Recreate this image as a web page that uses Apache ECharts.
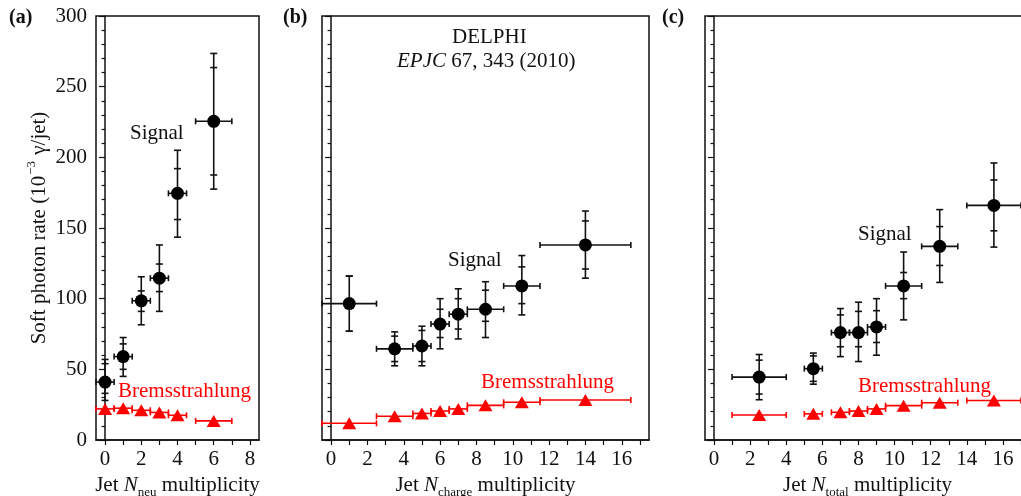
<!DOCTYPE html>
<html>
<head>
<meta charset="utf-8">
<script src="https://cdn.jsdelivr.net/npm/echarts@6/dist/echarts.min.js"></script>
<style>
html, body { margin: 0; padding: 0; background: #fff; }
#chart { width: 1021px; height: 496px; }
</style>
</head>
<body>
<div id="chart"></div>
<script>
// (a) Jet N_neu
const neuX = [0, 1, 2, 3, 4, 6]
const neuLo = [-0.5, 0.5, 1.5, 2.5, 3.5, 5]
const neuHi = [0.5, 1.5, 2.5, 3.5, 4.5, 7]
const neuSignal = [41, 59, 98.5, 114.5, 174.5, 225.5]
const neuStatLo = [33, 50, 91, 105, 156, 187.5]
const neuStatHi = [54, 68, 105.5, 124.5, 192, 263.5]
const neuTotLo = [28, 45, 81.5, 91, 143.5, 177.5]
const neuTotHi = [57, 72.5, 115.5, 138, 205, 273.5]
const neuBrems = [22, 22.5, 21, 19.5, 17.5, 13.5]

// (b) Jet N_charge
const chargeX = [1, 3.5, 5, 6, 7, 8.5, 10.5, 14]
const chargeLo = [-0.5, 2.5, 4.5, 5.5, 6.5, 7.5, 9.5, 11.5]
const chargeHi = [2.5, 4.5, 5.5, 6.5, 7.5, 9.5, 11.5, 16.5]
const chargeSignal = [96.5, 64.5, 66.5, 82, 89, 92.5, 109, 138]
const chargeStatLo = [77, 55.5, 55.5, 72.5, 78.5, 84, 96.5, 121]
const chargeStatHi = [116, 73.5, 77.5, 92.5, 100, 106, 122.5, 155]
const chargeTotLo = [77, 52.5, 52.5, 64.5, 71.5, 72.5, 88.5, 114.5]
const chargeTotHi = [116, 76.5, 80.5, 100, 107, 112, 130.5, 162]
const chargeBrems = [11.8, 16.8, 18.8, 20.5, 22, 24.5, 26.7, 28.3]

// (c) Jet N_total
const totalX = [2.5, 5.5, 7, 8, 9, 10.5, 12.5, 15.5]
const totalLo = [1, 5, 6.5, 7.5, 8.5, 9.5, 11.5, 14]
const totalHi = [4, 6, 7.5, 8.5, 9.5, 11.5, 13.5, 17]
const totalSignal = [44.5, 50.5, 76, 76, 80, 109, 137, 166]
const totalStatLo = [32.5, 41.5, 66, 66, 69, 100, 123.5, 148]
const totalStatHi = [56.5, 59.5, 88.5, 91, 91.5, 118.5, 151, 184]
const totalTotLo = [28.5, 39.5, 59, 55.5, 60, 85, 111.5, 136.5]
const totalTotHi = [60.5, 61.5, 93, 97.5, 100, 133, 163, 196]
const totalBrems = [17.7, 18.5, 19.6, 20.5, 22, 24.3, 26.4, 28]

const neuTickLabels = [0, 2, 4, 6, 8]
const wideTickLabels = [0, 2, 4, 6, 8, 10, 12, 14, 16]

const FONT = 'Liberation Serif'
const INK = '#111'
const RED = '#ff0000'

const range = (a, b) => {
  const out = []
  for (let i = a; i <= b; i++) out.push(i)
  return out
}

// error bars: [x, y, xlo, xhi, (tlo, thi, slo, shi)]
const makeErrRender = (color) => (params, api) => {
  const y = api.value(1)
  const l = api.coord([api.value(2), y])
  const r = api.coord([api.value(3), y])
  const style = { stroke: color, lineWidth: 1.6 }
  const kids = [
    { type: 'line', shape: { x1: l[0], y1: l[1], x2: r[0], y2: r[1] }, style },
    { type: 'line', shape: { x1: l[0], y1: l[1] - 3, x2: l[0], y2: l[1] + 3 }, style },
    { type: 'line', shape: { x1: r[0], y1: r[1] - 3, x2: r[0], y2: r[1] + 3 }, style },
  ]
  const tlo = api.value(4)
  if (!isNaN(tlo)) {
    const x = api.value(0)
    const b = api.coord([x, tlo])
    const t = api.coord([x, api.value(5)])
    kids.push({ type: 'line', shape: { x1: b[0], y1: b[1], x2: t[0], y2: t[1] }, style })
    ;[4, 5, 6, 7].forEach((k) => {
      const p = api.coord([x, api.value(k)])
      kids.push({ type: 'line', shape: { x1: p[0] - 3.5, y1: p[1], x2: p[0] + 3.5, y2: p[1] }, style })
    })
  }
  return { type: 'group', children: kids }
}

const panelSeries = (idx, xs, lo, hi, sig, tlo, thi, slo, shi, brems) => [
  {
    type: 'custom',
    xAxisIndex: idx,
    yAxisIndex: idx,
    renderItem: makeErrRender(INK),
    encode: { x: 0, y: 1 },
    data: xs.map((x, i) => [x, sig[i], lo[i], hi[i], tlo[i], thi[i], slo[i], shi[i]]),
    z: 2,
  },
  {
    type: 'scatter',
    xAxisIndex: idx,
    yAxisIndex: idx,
    symbol: 'circle',
    symbolSize: 13,
    itemStyle: { color: '#000', opacity: 1 },
    data: xs.map((x, i) => [x, sig[i]]),
    z: 3,
  },
  {
    type: 'custom',
    xAxisIndex: idx,
    yAxisIndex: idx,
    renderItem: makeErrRender(RED),
    encode: { x: 0, y: 1 },
    data: xs.map((x, i) => [x, brems[i], lo[i], hi[i]]),
    z: 2,
  },
  {
    type: 'scatter',
    xAxisIndex: idx,
    yAxisIndex: idx,
    symbol: 'triangle',
    symbolSize: [14, 12],
    itemStyle: { color: RED, opacity: 1 },
    data: xs.map((x, i) => [x, brems[i]]),
    z: 3,
  },
]

const axisLine = { show: true, lineStyle: { color: INK, width: 1.5 } }

const makeX = (idx, max, labels, sub) => ({
  type: 'value',
  gridIndex: idx,
  min: -0.5,
  max: max,
  axisLine,
  splitLine: { show: false },
  axisTick: { show: true, length: 5, lineStyle: { color: INK, width: 1.2 }, customValues: range(0, Math.floor(max)) },
  axisLabel: { customValues: labels, color: INK, fontFamily: FONT, fontSize: 21, margin: 9 },
  name: `{t|Jet }{i|N}{s|${sub}}{t| multiplicity}`,
  nameLocation: 'middle',
  nameGap: 29,
  nameTextStyle: {
    rich: {
      t: { fontFamily: FONT, fontSize: 21, color: INK, lineHeight: 28 },
      i: { fontFamily: FONT, fontSize: 21, fontStyle: 'italic', color: INK, lineHeight: 28 },
      s: { fontFamily: FONT, fontSize: 13, color: INK, verticalAlign: 'bottom', lineHeight: 28, padding: [6, 0, 0, 0] },
    },
  },
})

const makeY = (idx, showLabels) => ({
  type: 'value',
  gridIndex: idx,
  min: 0,
  max: 300,
  interval: 50,
  axisLine,
  splitLine: { show: false },
  axisTick: { show: true, length: 6, lineStyle: { color: INK, width: 1.2 } },
  minorTick: { show: true, splitNumber: 5, length: 3.5, lineStyle: { color: INK, width: 1.2 } },
  minorSplitLine: { show: false },
  axisLabel: { show: showLabels, color: INK, fontFamily: FONT, fontSize: 21, margin: 9 },
})

const gridBox = { show: true, borderColor: INK, borderWidth: 1.5, backgroundColor: 'transparent', outerBoundsMode: 'none', containLabel: false }

const yA = makeY(0, true)
yA.name = '{t|Soft photon rate (10}{p|\u22123}{t| \u03b3/jet)}'
yA.nameLocation = 'middle'
yA.nameGap = 43
yA.nameTextStyle = {
  rich: {
    t: { fontFamily: FONT, fontSize: 21, color: INK, lineHeight: 28 },
    p: { fontFamily: FONT, fontSize: 13, color: INK, verticalAlign: 'top', lineHeight: 28, padding: [0, 1, 8, 1] },
  },
}

const txt = (left, top, text, extra) => ({
  type: 'text',
  left,
  top,
  style: Object.assign({ text, fontFamily: FONT, fontSize: 21, fill: INK }, extra || {}),
})

const chart = echarts.init(document.getElementById('chart'))
chart.setOption({
  animation: false,
  backgroundColor: '#fff',
  grid: [
    Object.assign({ left: 96, top: 16, width: 163, height: 424 }, gridBox),
    Object.assign({ left: 322, top: 16, width: 327, height: 424 }, gridBox),
    Object.assign({ left: 705, top: 16, width: 325, height: 424 }, gridBox),
  ],
  xAxis: [
    makeX(0, 8.5, neuTickLabels, 'neu'),
    makeX(1, 17.5, wideTickLabels, 'charge'),
    makeX(2, 17.5, wideTickLabels, 'total'),
  ],
  yAxis: [yA, makeY(1, false), makeY(2, false)],
  graphic: [
    txt(9, 8, '(a)', { fontWeight: 'bold', fontSize: 20 }),
    txt(283, 8, '(b)', { fontWeight: 'bold', fontSize: 20 }),
    txt(662, 8, '(c)', { fontWeight: 'bold', fontSize: 20 }),
    txt(452, 27, 'DELPHI'),
    {
      type: 'text',
      left: 397,
      top: 51,
      style: {
        text: '{i|EPJC} 67, 343 (2010)',
        fontFamily: FONT,
        fontSize: 21,
        fill: INK,
        rich: { i: { fontFamily: FONT, fontSize: 21, fontStyle: 'italic', fill: INK } },
      },
    },
    txt(130, 123, 'Signal'),
    txt(448, 250, 'Signal'),
    txt(858, 224, 'Signal'),
    txt(118, 381, 'Bremsstrahlung', { fill: RED }),
    txt(481, 372, 'Bremsstrahlung', { fill: RED }),
    txt(858, 376, 'Bremsstrahlung', { fill: RED }),
  ],
  series: [
    ...panelSeries(0, neuX, neuLo, neuHi, neuSignal, neuTotLo, neuTotHi, neuStatLo, neuStatHi, neuBrems),
    ...panelSeries(1, chargeX, chargeLo, chargeHi, chargeSignal, chargeTotLo, chargeTotHi, chargeStatLo, chargeStatHi, chargeBrems),
    ...panelSeries(2, totalX, totalLo, totalHi, totalSignal, totalTotLo, totalTotHi, totalStatLo, totalStatHi, totalBrems),
  ],
})

window.addEventListener('resize', () => {
  chart.resize()
})
</script>
</body>
</html>
